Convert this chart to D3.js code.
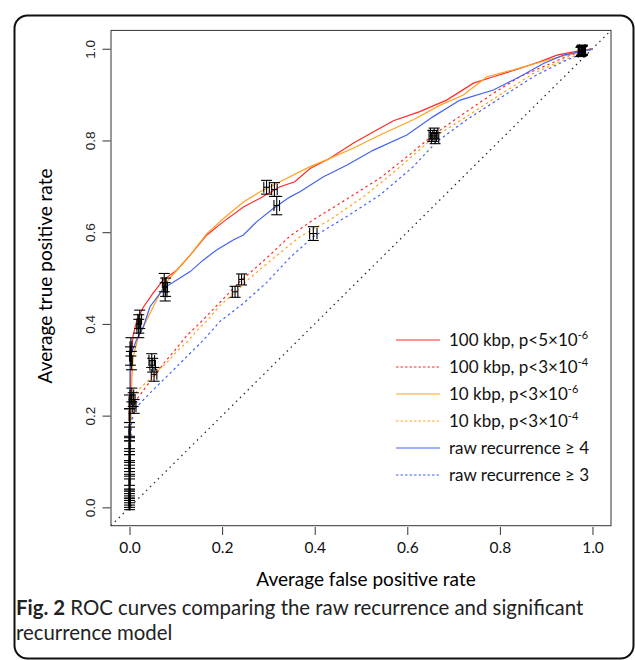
<!DOCTYPE html>
<html>
<head>
<meta charset="utf-8">
<script src="https://cdn.jsdelivr.net/npm/d3@7"></script>
<style>
  body { margin: 0; background: #fff; }
  svg { display: block; }
</style>
</head>
<body>
<svg id="svg" width="635" height="660"></svg>
<script>
// ROC curves: [false positive rate, true positive rate]
const red100Strict = [[0,0],[0,0.05],[0.001,0.15],[0.002,0.25],[0.003,0.33],[0.008,0.376],[0.016,0.408],[0.03,0.437],[0.051,0.467],[0.073,0.496],[0.102,0.517],[0.131,0.55],[0.167,0.594],[0.203,0.623],[0.246,0.655],[0.282,0.674],[0.325,0.699],[0.357,0.71],[0.39,0.739],[0.433,0.761],[0.483,0.794],[0.534,0.823],[0.57,0.843],[0.627,0.863],[0.685,0.888],[0.743,0.925],[0.786,0.939],[0.843,0.957],[0.887,0.972],[0.923,0.986],[0.959,0.993],[0.98,0.997],[1,1]];
const red100Loose = [[0,0],[0.001,0.1],[0.003,0.18],[0.008,0.222],[0.016,0.236],[0.035,0.262],[0.055,0.288],[0.077,0.318],[0.1,0.345],[0.124,0.375],[0.15,0.4],[0.174,0.425],[0.2,0.452],[0.222,0.475],[0.242,0.496],[0.27,0.52],[0.303,0.55],[0.347,0.592],[0.397,0.627],[0.469,0.672],[0.541,0.718],[0.6,0.765],[0.656,0.812],[0.728,0.863],[0.786,0.903],[0.843,0.939],[0.901,0.964],[0.944,0.983],[0.98,0.995],[1,1]];
const orange10Strict = [[0,0],[0.001,0.1],[0.003,0.2],[0.005,0.28],[0.008,0.328],[0.019,0.372],[0.037,0.408],[0.055,0.445],[0.07,0.474],[0.084,0.496],[0.102,0.517],[0.131,0.55],[0.167,0.597],[0.203,0.63],[0.246,0.666],[0.282,0.688],[0.325,0.71],[0.39,0.743],[0.433,0.761],[0.483,0.783],[0.541,0.812],[0.613,0.845],[0.671,0.877],[0.721,0.899],[0.772,0.939],[0.829,0.954],[0.901,0.975],[0.959,0.99],[0.98,0.995],[1,1]];
const orange10Loose = [[0,0],[0.001,0.1],[0.003,0.2],[0.008,0.245],[0.025,0.262],[0.044,0.28],[0.06,0.298],[0.08,0.315],[0.102,0.34],[0.124,0.36],[0.145,0.385],[0.17,0.41],[0.195,0.44],[0.228,0.468],[0.26,0.5],[0.289,0.525],[0.325,0.555],[0.368,0.59],[0.433,0.627],[0.505,0.677],[0.577,0.736],[0.656,0.806],[0.728,0.852],[0.793,0.895],[0.872,0.946],[0.937,0.975],[0.98,0.992],[1,1]];
const rawGe4 = [[0,0],[0,0.1],[0.001,0.2],[0.001,0.328],[0.015,0.365],[0.03,0.394],[0.044,0.437],[0.073,0.477],[0.102,0.496],[0.131,0.514],[0.159,0.539],[0.188,0.561],[0.224,0.583],[0.246,0.594],[0.275,0.623],[0.311,0.652],[0.347,0.677],[0.368,0.688],[0.419,0.721],[0.469,0.746],[0.527,0.779],[0.599,0.812],[0.656,0.852],[0.714,0.888],[0.786,0.91],[0.843,0.939],[0.894,0.968],[0.937,0.986],[0.973,0.993],[1,1]];
const rawGe3 = [[0,0],[0.001,0.1],[0.004,0.18],[0.01,0.212],[0.016,0.22],[0.044,0.249],[0.08,0.285],[0.1,0.305],[0.131,0.336],[0.16,0.365],[0.195,0.405],[0.246,0.445],[0.296,0.49],[0.347,0.545],[0.397,0.59],[0.469,0.634],[0.541,0.681],[0.613,0.743],[0.663,0.797],[0.728,0.845],[0.8,0.892],[0.872,0.939],[0.937,0.972],[0.98,0.99],[1,1]];

// threshold points with error: [fpr, tpr, fprErr, tprErr]
const red100StrictPts = [[0,0.01,0.001,0.01],[0,0.05,0.001,0.012],[0,0.1,0.001,0.015],[0,0.17,0.001,0.015],[0.002,0.33,0.002,0.02],[0.02,0.4,0.004,0.02],[0.075,0.49,0.004,0.02],[0.313,0.693,0.006,0.015],[0.978,0.997,0.006,0.01]];
const orange10StrictPts = [[0,0.02,0.001,0.01],[0,0.08,0.001,0.012],[0,0.13,0.001,0.015],[0,0.2,0.001,0.015],[0.003,0.35,0.002,0.02],[0.02,0.39,0.004,0.02],[0.078,0.48,0.004,0.02],[0.296,0.698,0.006,0.015],[0.978,0.996,0.006,0.01]];
const rawGe4Pts = [[0,0.03,0.001,0.01],[0,0.09,0.001,0.012],[0,0.16,0.001,0.015],[0,0.23,0.001,0.015],[0.004,0.32,0.002,0.02],[0.022,0.41,0.004,0.02],[0.077,0.47,0.004,0.02],[0.318,0.658,0.006,0.02],[0.976,0.995,0.006,0.01]];
const red100LoosePts = [[0,0.005,0.001,0.01],[0,0.06,0.001,0.012],[0.008,0.235,0.004,0.015],[0.05,0.31,0.006,0.015],[0.242,0.497,0.006,0.012],[0.658,0.815,0.008,0.012],[0.978,0.998,0.006,0.01]];
const orange10LoosePts = [[0,0.015,0.001,0.01],[0,0.11,0.001,0.012],[0.005,0.245,0.004,0.015],[0.048,0.32,0.006,0.015],[0.228,0.47,0.006,0.012],[0.655,0.81,0.008,0.012],[0.978,0.996,0.006,0.01]];
const rawGe3Pts = [[0,0.025,0.001,0.01],[0,0.14,0.001,0.012],[0.01,0.22,0.004,0.015],[0.053,0.29,0.006,0.015],[0.397,0.597,0.008,0.015],[0.66,0.805,0.008,0.012],[0.975,0.993,0.006,0.01]];

const legendLabels = [
  ["100 kbp, p<5\u00d710", "-6"],
  ["100 kbp, p<3\u00d710", "-4"],
  ["10 kbp, p<3\u00d710", "-6"],
  ["10 kbp, p<3\u00d710", "-4"],
  ["raw recurrence \u2265 4", ""],
  ["raw recurrence \u2265 3", ""]
];
const tickValues = [0, 0.2, 0.4, 0.6, 0.8, 1.0];

const series = [
  {curve: red100Strict, pts: red100StrictPts, color: "#ff2a2a", dashed: false},
  {curve: red100Loose, pts: red100LoosePts, color: "#ff2a2a", dashed: true},
  {curve: orange10Strict, pts: orange10StrictPts, color: "#ffa21f", dashed: false},
  {curve: orange10Loose, pts: orange10LoosePts, color: "#ffa21f", dashed: true},
  {curve: rawGe4, pts: rawGe4Pts, color: "#4262f5", dashed: false},
  {curve: rawGe3, pts: rawGe3Pts, color: "#4262f5", dashed: true}
];

const svg = d3.select("#svg");
const latin = "Lato, 'Open Sans', sans-serif";

// outer rounded frame
svg.append("rect")
  .attr("x", 14.5).attr("y", 15.5)
  .attr("width", 619).attr("height", 643)
  .attr("rx", 13)
  .attr("fill", "none")
  .attr("stroke", "#111")
  .attr("stroke-width", 2);

var x = d3.scaleLinear().domain([-0.04, 1.04]).range([111, 611]);
var y = d3.scaleLinear().domain([-0.04, 1.04]).range([525.7, 30.4]);

var line = d3.line().x(d => x(d[0])).y(d => y(d[1]));

// diagonal reference
svg.append("line")
  .attr("x1", x(-0.04)).attr("y1", y(-0.04))
  .attr("x2", x(1.04)).attr("y2", y(1.04))
  .attr("stroke", "#222")
  .attr("stroke-width", 1.2)
  .attr("stroke-dasharray", "1.5,4");

// curves
svg.append("g").selectAll("path")
    .data(series)
  .enter().append("path")
    .attr("d", d => line(d.curve))
    .attr("fill", "none")
    .attr("stroke", d => d.color)
    .attr("stroke-width", 1.2)
    .attr("stroke-dasharray", d => d.dashed ? "2.5,3" : null);

// error bars
const cap = 5.5;
const bars = svg.append("g")
  .attr("stroke", "#000")
  .attr("stroke-width", 1.1);
series.forEach(s => {
  s.pts.forEach(p => {
    const cx = x(p[0]), cy = y(p[1]);
    const y0 = y(p[1] - p[3]), y1 = y(p[1] + p[3]);
    const x0 = x(p[0] - p[2]), x1 = x(p[0] + p[2]);
    bars.append("line").attr("x1", cx).attr("x2", cx).attr("y1", y0).attr("y2", y1);
    bars.append("line").attr("x1", cx - cap).attr("x2", cx + cap).attr("y1", y0).attr("y2", y0);
    bars.append("line").attr("x1", cx - cap).attr("x2", cx + cap).attr("y1", y1).attr("y2", y1);
    bars.append("line").attr("x1", x0).attr("x2", x1).attr("y1", cy).attr("y2", cy);
    bars.append("line").attr("x1", x0).attr("x2", x0).attr("y1", cy - cap).attr("y2", cy + cap);
    bars.append("line").attr("x1", x1).attr("x2", x1).attr("y1", cy - cap).attr("y2", cy + cap);
  });
});

// plot box
svg.append("rect")
  .attr("x", 111).attr("y", 30.4)
  .attr("width", 500).attr("height", 495.3)
  .attr("fill", "none")
  .attr("stroke", "#333")
  .attr("stroke-width", 1);

// x axis
const xAxis = svg.append("g")
  .attr("transform", "translate(0,527)")
  .call(d3.axisBottom(x).tickValues(tickValues).tickSize(8).tickFormat(d3.format(".1f")));
xAxis.select(".domain").remove();
xAxis.selectAll("line").attr("stroke", "#333");
xAxis.selectAll("text")
  .attr("y", 15)
  .style("font-family", latin)
  .style("font-size", "15.5px")
  .attr("fill", "#111");

// y axis
const yAxis = svg.append("g")
  .attr("transform", "translate(110.5,0)")
  .call(d3.axisLeft(y).tickValues(tickValues).tickSize(8).tickFormat(d3.format(".1f")));
yAxis.select(".domain").remove();
yAxis.selectAll("line").attr("stroke", "#333");
yAxis.selectAll("text")
  .attr("x", null).attr("dy", null)
  .attr("text-anchor", "middle")
  .attr("transform", "translate(-15.5,0) rotate(-90)")
  .style("font-family", "'Liberation Sans', Arial, sans-serif")
  .style("font-size", "13.5px")
  .attr("fill", "#222");

// axis titles
svg.append("text")
  .attr("x", 366).attr("y", 586)
  .attr("text-anchor", "middle")
  .style("font-family", latin)
  .style("font-size", "19px")
  .text("Average false positive rate");

svg.append("text")
  .attr("transform", "translate(52,276) rotate(-90)")
  .attr("text-anchor", "middle")
  .style("font-family", latin)
  .style("font-size", "19px")
  .text("Average true positive rate");

// legend
const legend = svg.append("g").attr("class", "legend");
const rows = legend.selectAll("g")
    .data(series)
  .enter().append("g")
    .attr("transform", (d, i) => "translate(396," + (340 + i * 27) + ")");

rows.append("line")
  .attr("x1", 0).attr("x2", 44)
  .attr("stroke", d => d.color)
  .attr("stroke-width", 1.2)
  .attr("stroke-dasharray", d => d.dashed ? "2.5,2" : null);

const lt = rows.append("text")
  .attr("x", 53).attr("y", 6)
  .style("font-family", latin)
  .style("font-size", "17px")
  .attr("fill", "#111");
lt.append("tspan").text((d, i) => legendLabels[i][0]);
lt.append("tspan")
  .attr("dy", -7)
  .style("font-size", "11px")
  .text((d, i) => legendLabels[i][1]);

// caption
const cap1 = svg.append("text")
  .attr("x", 16).attr("y", 615)
  .style("font-family", latin)
  .style("font-size", "20.4px")
  .attr("fill", "#222");
cap1.append("tspan").style("font-weight", "bold").text("Fig. 2");
cap1.append("tspan").text(" ROC curves comparing the raw recurrence and significant");

svg.append("text")
  .attr("x", 16).attr("y", 640)
  .style("font-family", latin)
  .style("font-size", "20.4px")
  .attr("fill", "#222")
  .text("recurrence model");
</script>
</body>
</html>
